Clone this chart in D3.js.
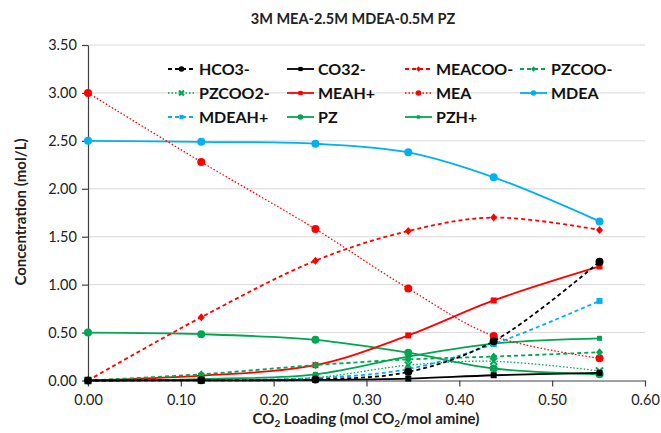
<!DOCTYPE html>
<html><head><meta charset="utf-8">
<script src="https://cdn.jsdelivr.net/npm/d3@7/dist/d3.min.js"></script>
<style>body{margin:0;background:#fff;} svg{display:block;font-family:Lato,"Open Sans",sans-serif;}</style>
</head><body>
<svg id="c" width="661" height="433"></svg>
<script>
const loading = [0, 0.122, 0.245, 0.345, 0.437, 0.551];
const HCO3 = [0, 0.002, 0.01, 0.09, 0.41, 1.24];
const CO32 = [0, 0.001, 0.006, 0.02, 0.055, 0.08];
const MEACOO = [0, 0.66, 1.25, 1.56, 1.70, 1.57];
const PZCOO = [0, 0.065, 0.16, 0.22, 0.25, 0.295];
const PZCOO2 = [0, 0.004, 0.03, 0.16, 0.20, 0.10];
const MEAH = [0, 0.05, 0.16, 0.47, 0.835, 1.19];
const MEA = [3.00, 2.28, 1.58, 0.96, 0.465, 0.232];
const MDEA = [2.50, 2.49, 2.47, 2.38, 2.12, 1.66];
const MDEAH = [0, 0.008, 0.025, 0.12, 0.38, 0.83];
const PZ = [0.50, 0.483, 0.424, 0.29, 0.125, 0.065];
const PZH = [0, 0.015, 0.065, 0.25, 0.385, 0.44];
const xTicks = [0, 0.1, 0.2, 0.3, 0.4, 0.5, 0.6];
const yTicks = [0, 0.5, 1.0, 1.5, 2.0, 2.5, 3.0, 3.5];

const series = [
  {name:"HCO3-", v:HCO3, c:"#000000", dash:"4,3", m:"circle"},
  {name:"CO32-", v:CO32, c:"#000000", dash:null, m:"square"},
  {name:"MEACOO-", v:MEACOO, c:"#FF0000", dash:"4,3", m:"diamond"},
  {name:"PZCOO-", v:PZCOO, c:"#00A651", dash:"4,3", m:"diamond"},
  {name:"PZCOO2-", v:PZCOO2, c:"#00A651", dash:"1.5,2", m:"cross"},
  {name:"MEAH+", v:MEAH, c:"#FF0000", dash:null, m:"square"},
  {name:"MEA", v:MEA, c:"#FF0000", dash:"1.5,2", m:"circle"},
  {name:"MDEA", v:MDEA, c:"#00B0F0", dash:null, m:"circle"},
  {name:"MDEAH+", v:MDEAH, c:"#00B0F0", dash:"4,3", m:"square"},
  {name:"PZ", v:PZ, c:"#00A651", dash:null, m:"circle"},
  {name:"PZH+", v:PZH, c:"#00A651", dash:null, m:"smallsquare"}
];

const svg = d3.select("#c");
const L = 88, R = 645, T = 45, B = 380.5;
const x = d3.scaleLinear().domain([0, 0.6]).range([L, R]);
const y = d3.scaleLinear().domain([0, 3.5]).range([B, T]);

svg.append("g").selectAll("line").data(yTicks.slice(1)).join("line")
  .attr("x1", L).attr("x2", R).attr("y1", d => y(d)).attr("y2", d => y(d))
  .attr("stroke", "#d9d9d9").attr("stroke-width", 1);

const xAxis = svg.append("g").attr("transform", `translate(0,${B})`)
  .call(d3.axisBottom(x).tickValues(xTicks).tickFormat(d3.format(".2f")).tickSize(6).tickSizeOuter(0));
const yAxis = svg.append("g").attr("transform", `translate(${L},0)`)
  .call(d3.axisLeft(y).tickValues(yTicks).tickFormat(d3.format(".2f")).tickSize(6).tickSizeOuter(0));
[xAxis, yAxis].forEach(a => {
  a.selectAll("path,line").attr("stroke", "#404040").attr("stroke-width", 1.2);
  a.selectAll("text").attr("fill", "#222").style("font-size", "14.5px").style("font-family", "Lato,'Open Sans',sans-serif");
});
xAxis.selectAll("text").attr("dy", "1.1em");
yAxis.selectAll("text").attr("dx", "-0.15em");

const line = d3.line().x((d, i) => x(loading[i])).y(d => y(d)).curve(d3.curveCatmullRom.alpha(0.5));

function marker(g, type, cx, cy, col, k) {
  k = k || 1;
  if (type === "circle") g.append("circle").attr("cx", cx).attr("cy", cy).attr("r", 4 * k).attr("fill", col);
  else if (type === "square") g.append("rect").attr("x", cx - 3 * k).attr("y", cy - 3 * k).attr("width", 6 * k).attr("height", 6 * k).attr("fill", col);
  else if (type === "smallsquare") g.append("rect").attr("x", cx - 2.5 * k).attr("y", cy - 2.5 * k).attr("width", 5 * k).attr("height", 5 * k).attr("fill", col);
  else if (type === "diamond") g.append("path").attr("d", `M${cx},${cy-4*k}L${cx+3.5*k},${cy}L${cx},${cy+4*k}L${cx-3.5*k},${cy}Z`).attr("fill", col);
  else if (type === "cross") g.append("path").attr("d", `M${cx-3.5*k},${cy-3.5*k}L${cx+3.5*k},${cy+3.5*k}M${cx+3.5*k},${cy-3.5*k}L${cx-3.5*k},${cy+3.5*k}`).attr("stroke", col).attr("stroke-width", 2);
}

const plot = svg.append("g");
series.slice().reverse().forEach(s => {
  const g = plot.append("g");
  g.append("path").attr("d", line(s.v)).attr("fill", "none").attr("stroke", s.c)
    .attr("stroke-width", s.dash === "1.5,2" ? 1.3 : 1.8)
    .attr("stroke-dasharray", s.dash);
  s.v.forEach((v, i) => marker(g, s.m, x(loading[i]), y(v), s.c));
});

const colX = [168, 287, 405, 520];
const rowY = [69, 93, 117];
series.forEach((s, i) => {
  const cx = colX[i % 4], cy = rowY[Math.floor(i / 4)];
  const g = svg.append("g");
  g.append("line").attr("x1", cx).attr("x2", cx + 27).attr("y1", cy).attr("y2", cy)
    .attr("stroke", s.c).attr("stroke-width", s.dash === "1.5,2" ? 1.3 : 1.8).attr("stroke-dasharray", s.dash);
  marker(g, s.m, cx + 13.5, cy, s.c, 0.7);
  g.append("text").attr("x", cx + 31).attr("y", cy + 5.5).text(s.name)
    .style("font-size", "16px").style("font-weight", "bold").attr("fill", "#111");
});

svg.append("text").attr("x", 353).attr("y", 24).attr("text-anchor", "middle")
  .style("font-size", "14.5px").style("font-weight", "bold").attr("fill", "#222").text("3M MEA-2.5M MDEA-0.5M PZ");
svg.append("text").attr("transform", "translate(26,212) rotate(-90)").attr("text-anchor", "middle")
  .style("font-size", "15px").style("font-weight", "bold").attr("fill", "#222").text("Concentration (mol/L)");
const xl = svg.append("text").attr("x", 366).attr("y", 424).attr("text-anchor", "middle")
  .style("font-size", "15px").style("font-weight", "bold").attr("fill", "#222");
xl.append("tspan").text("CO");
xl.append("tspan").text("2").style("font-size", "10px").attr("dy", 3);
xl.append("tspan").text(" Loading (mol CO").attr("dy", -3);
xl.append("tspan").text("2").style("font-size", "10px").attr("dy", 3);
xl.append("tspan").text("/mol amine)").attr("dy", -3);
</script>
</body></html>
